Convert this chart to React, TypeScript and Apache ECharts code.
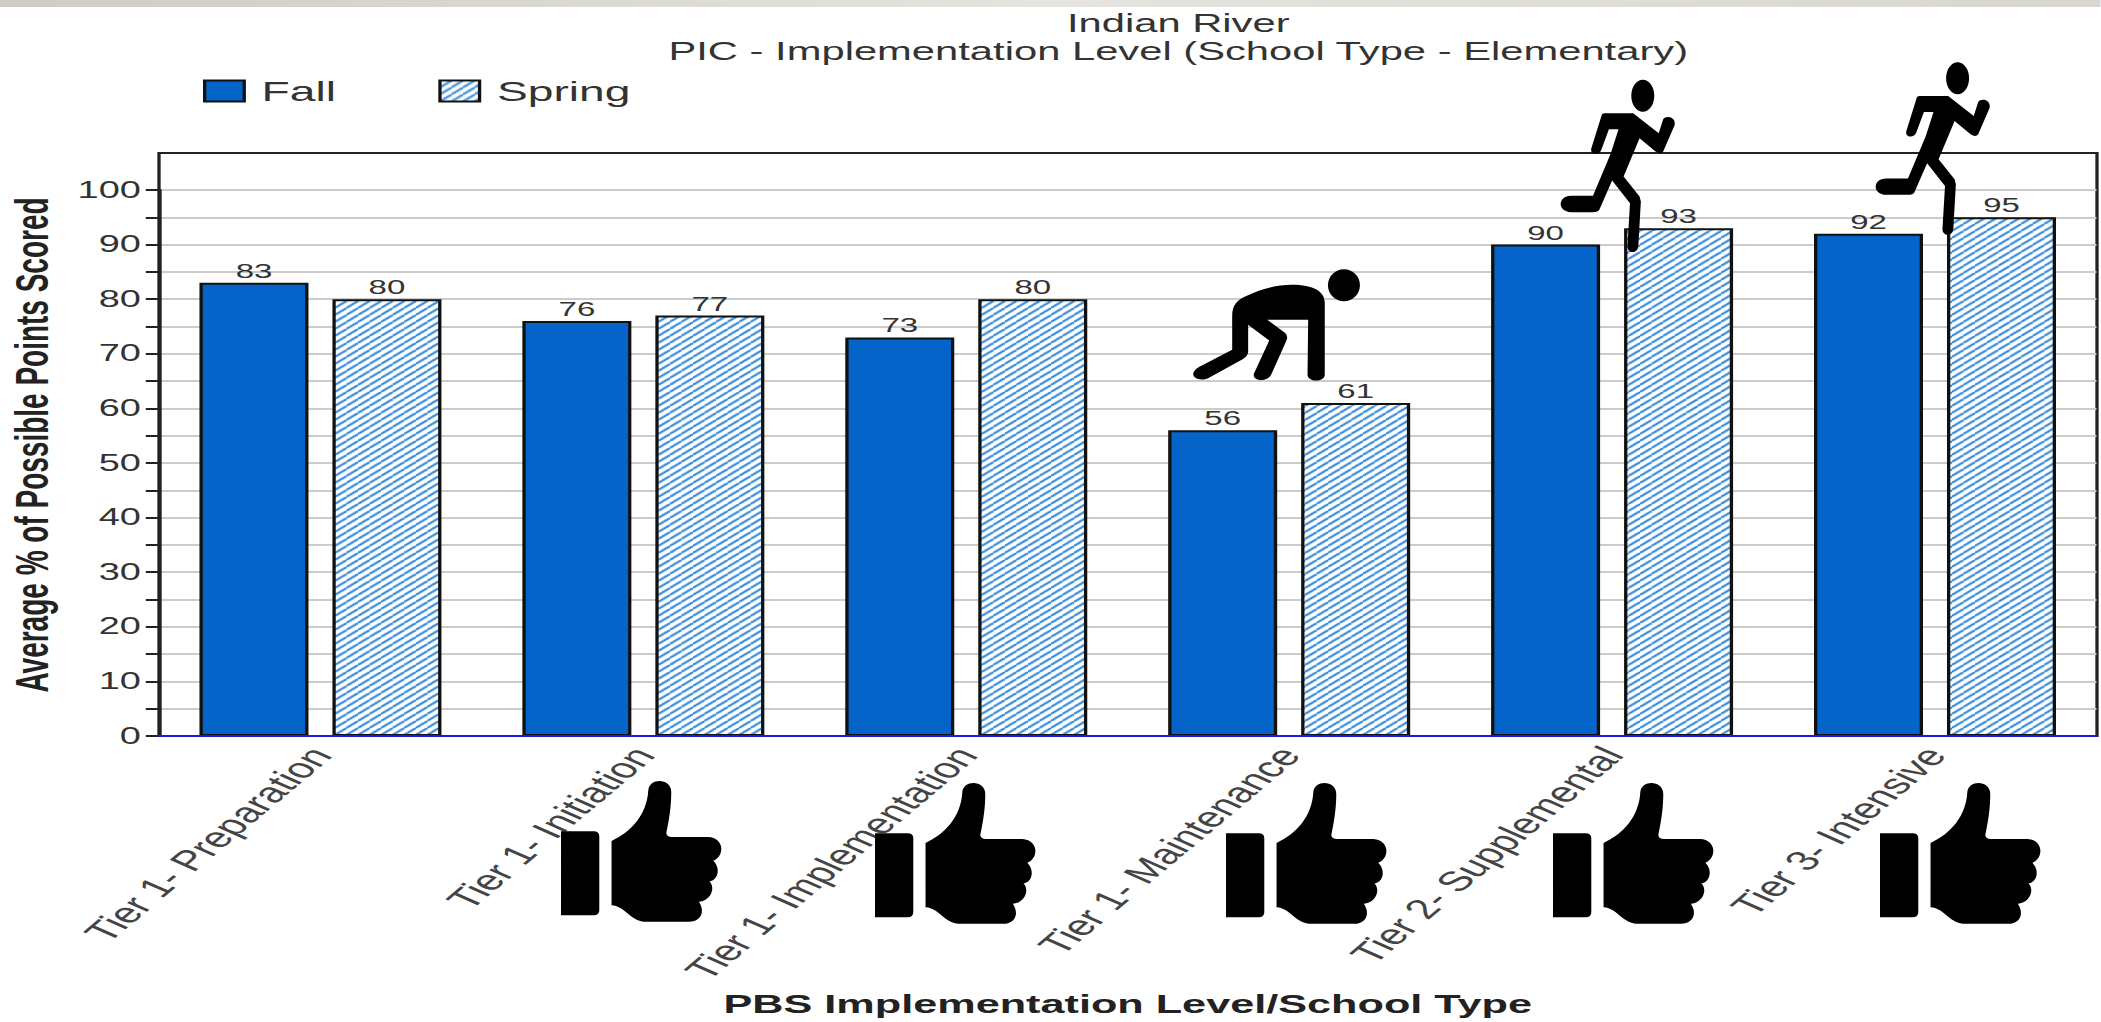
import React, { useEffect, useRef } from "react";
import * as echarts from "echarts";

const categories = ["Tier 1- Preparation", "Tier 1- Initiation", "Tier 1- Implementation", "Tier 1- Maintenance", "Tier 2- Supplemental", "Tier 3- Intensive"];
const fall = [83, 76, 73, 56, 90, 92];
const spring = [80, 77, 80, 61, 93, 95];
const titleText = "Indian River\nPIC - Implementation Level (School Type - Elementary)";
const yName = "Average % of Possible Points Scored";
const xName = "PBS Implementation Level/School Type";

// The reference is a picture stretched sideways: the chart is laid out narrow and widened by CSS.
const S = 1.65;
const W = 2101 / S;
const FONT = "'Liberation Sans', Arial, sans-serif";

const THUMB = "M160 333 L245 333 Q260 333 260 348 L260 570 Q260 585 245 585 L160 585 Z M292 362 C345 335 385 280 388 210 C390 172 448 172 448 215 C448 260 442 300 435 338 Q436 350 450 350 L545 350 C585 352 590 405 558 422 C578 445 570 480 548 484 C565 505 550 542 520 545 C538 575 525 605 495 605 L385 605 C340 605 330 558 292 555 Z";
const RUNNER = "M790 190 L835 190 L875 250 L882 208 C886 195 902 200 900 225 L882 305 Q878 315 870 305 L845 265 L820 380 L845 440 L847 455 L843 590 C842 612 826 612 826 590 L830 460 L802 392 L782 480 Q780 487 772 487 L738 487 C716 487 716 438 738 438 L772 438 L800 310 L812 238 L797 238 L785 300 C782 318 765 315 770 292 L785 200 Q786 190 790 190 Z";
const BENT = "M207 800 C207 765 215 750 230 738 C250 720 275 705 300 705 C335 705 352 725 352 760 L352 975 C352 998 325 998 325 975 L326 810 L262 810 L290 850 Q295 860 292 872 L268 975 C262 998 238 995 241 972 L265 872 L232 825 L232 908 Q231 922 222 930 L170 985 C152 1000 135 975 155 952 L207 900 Z";
echarts.graphic.registerShape("thumbIcon", echarts.graphic.extendPath(THUMB, {}));
echarts.graphic.registerShape("runnerIcon", echarts.graphic.extendPath(RUNNER, {}));
echarts.graphic.registerShape("bentIcon", echarts.graphic.extendPath(BENT, {}));

function hatch() {
  const c = document.createElement("canvas");
  c.width = 7;
  c.height = 7;
  const g = c.getContext("2d")!;
  g.fillStyle = "#ffffff";
  g.fillRect(0, 0, 7, 7);
  g.strokeStyle = "#2f86dc";
  g.lineWidth = 1.7;
  for (const d of [-7, 0, 7]) {
    g.beginPath();
    g.moveTo(d, 7);
    g.lineTo(d + 7, 0);
    g.stroke();
  }
  return c;
}

export default function App() {
  const ref = useRef<HTMLDivElement>(null);
  useEffect(() => {
    document.body.style.margin = "0";
    document.body.style.overflow = "hidden";
    const chart = echarts.init(ref.current!, null, { renderer: "svg" });
    const pattern: any = { image: hatch(), repeat: "repeat" };
    const thumbs = [[561, 781], [875, 783], [1226, 783], [1553, 783], [1880, 783]].map(([x, y]) => ({
      type: "thumbIcon",
      x: (x - 160 / 2.613) / S,
      y: y - 182 / 3 + 0,
      scaleX: 1 / (2.613 * S),
      scaleY: 1 / 3,
      z: 100,
      style: { fill: "#000" },
    }));
    const figure = (type: string, dx: number, dy: number) => ({
      type,
      x: (1100 + dx) / S,
      y: 50 + dy,
      scaleX: 1 / (1.566 * S),
      scaleY: 1 / 3,
      z: 100,
      style: { fill: "#000" },
    });
    const head = (cx: number, cy: number, rx: number, ry: number) => ({
      type: "ellipse",
      z: 100,
      shape: { cx: cx / S, cy, rx: rx / S, ry },
      style: { fill: "#000" },
    });
    chart.setOption({
      animation: false,
      backgroundColor: "#ffffff",
      title: {
        text: titleText,
        left: 1170 / S,
        top: 4,
        textAlign: "center",
        textStyle: { fontFamily: FONT, fontSize: 25.3, fontWeight: "normal", color: "#333", lineHeight: 28 },
      },
      legend: {
        left: 203 / S,
        top: 77,
        padding: 0,
        itemWidth: 24,
        itemHeight: 21,
        itemGap: 62,
        icon: "rect",
        textStyle: { fontFamily: FONT, fontSize: 28, color: "#333", padding: [0, 0, 0, 5.5] },
        data: ["Fall", "Spring"],
      },
      grid: { left: 159 / S, right: 4 / S, top: 190, bottom: 286, outerBoundsMode: "none" },
      xAxis: {
        type: "category",
        data: categories,
        z: 5,
        name: xName,
        nameLocation: "middle",
        nameGap: 251,
        nameTextStyle: { fontFamily: FONT, fontSize: 26.2, fontWeight: "bold", color: "#222" },
        axisLine: { lineStyle: { color: "#1a1ae6", width: 2 } },
        axisTick: { length: 8, lineStyle: { color: "#1a1ae6", width: 2 }, alignWithLabel: false },
        axisLabel: { interval: 0, rotate: 54, margin: 14, fontFamily: FONT, fontSize: 28, color: "#444" },
      },
      yAxis: {
        type: "value",
        min: 0,
        max: 100,
        interval: 5,
        name: yName,
        nameLocation: "middle",
        nameGap: 63,
        nameTextStyle: { fontFamily: FONT, fontSize: 28, fontWeight: "bold", color: "#222", padding: [0, 0, 0, 36] },
        axisLine: { show: true, lineStyle: { color: "#222", width: 2 } },
        axisTick: { show: true, length: 8, lineStyle: { color: "#222", width: 2 } },
        axisLabel: {
          margin: 11,
          fontFamily: FONT,
          fontSize: 23,
          color: "#333",
          formatter: (v: number) => (v % 10 === 0 ? String(v) : ""),
        },
        splitLine: { show: true, lineStyle: { color: "#cccccc", width: 2 } },
      },
      series: [
        {
          name: "Fall",
          type: "bar",
          data: fall,
          barWidth: 109 / S,
          barGap: "22%",
          itemStyle: { color: "#0464c9", borderColor: "#111", borderWidth: 2 },
          label: { show: true, position: "top", distance: 2, fontFamily: FONT, fontSize: 20, color: "#333" },
        },
        {
          name: "Spring",
          type: "bar",
          data: spring,
          barWidth: 109 / S,
          itemStyle: { color: pattern, borderColor: "#111", borderWidth: 2 },
          label: { show: true, position: "top", distance: 2, fontFamily: FONT, fontSize: 20, color: "#333" },
        },
      ],
      graphic: [
        {
          type: "rect",
          z: -1,
          shape: { x: 0, y: 0, width: W, height: 7 },
          style: {
            fill: new echarts.graphic.LinearGradient(0, 0, 1, 0, [
              { offset: 0, color: "#cfcbc5" },
              { offset: 0.5, color: "#e6e4e0" },
              { offset: 1, color: "#d9d6d1" },
            ]),
          },
        },
        {
          type: "rect",
          z: -1,
          shape: { x: 159 / S, y: 153, width: (2097 - 159) / S, height: 583 },
          style: { fill: "none", stroke: "#222", lineWidth: 2 },
        },
        ...thumbs,
        figure("runnerIcon", 0, 0),
        head(1100 + 850 / 1.566, 50 + 137 / 3, 11.5, 16),
        figure("runnerIcon", 315, -17.3),
        head(1100 + 1343 / 1.566, 50 + 85 / 3, 11.5, 16),
        figure("bentIcon", 0, 0),
        head(1100 + 382 / 1.566, 50 + 706 / 3, 16, 16),
      ],
    });
    return () => chart.dispose();
  }, []);
  return (
    <div style={{ position: "fixed", left: 0, top: 0, width: 2101, height: 1022, overflow: "hidden" }}>
      <div
        ref={ref}
        style={{ width: W, height: 1022, transform: `scaleX(${S})`, transformOrigin: "0 0" }}
      />
    </div>
  );
}
